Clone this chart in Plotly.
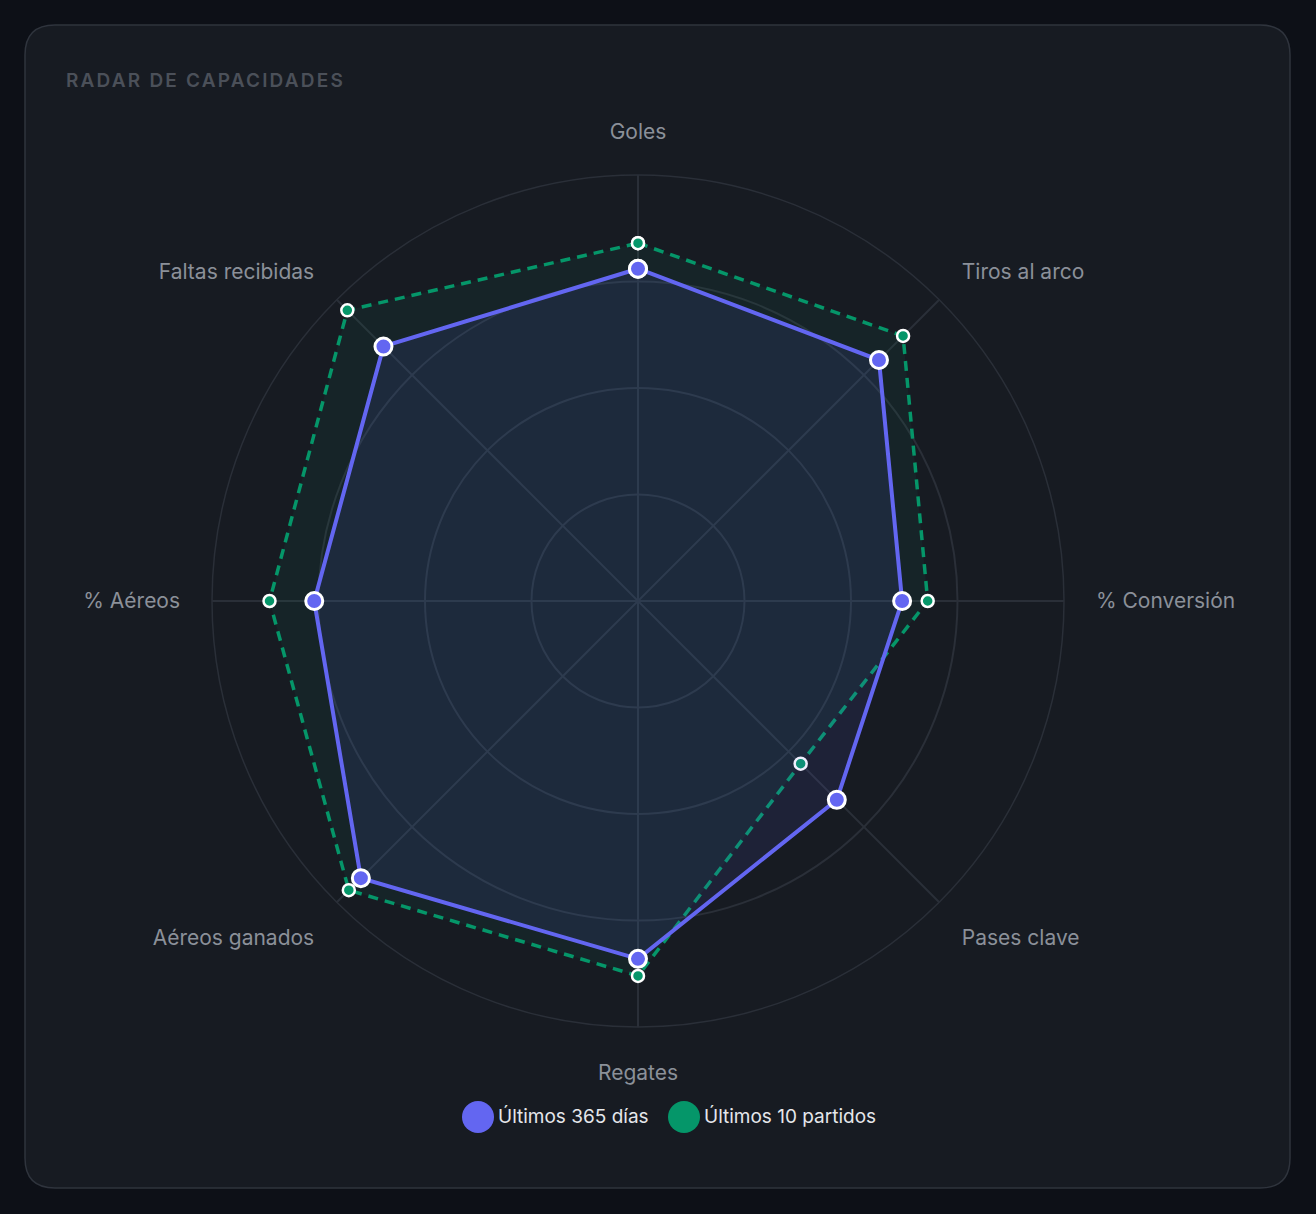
import plotly.graph_objects as go

W, H = 1316, 1214

# axis categories, clockwise from the top
categories = ["Goles", "Tiros al arco", "% Conversión", "Pases clave",
              "Regates", "Aéreos ganados", "% Aéreos", "Faltas recibidas"]

# values 0-100
ultimos_365 = [78, 80, 62, 66, 84, 92, 76, 84.5]
ultimos_10 = [84, 88, 68, 54, 88, 96, 86.5, 96.5]

series_names = ["Últimos 365 días", "Últimos 10 partidos"]
blue = "#6366f1"
green = "#059669"

grid_color = "#2a2f38"
label_color = "#8b9099"


def px(x, y):
    # pixel -> paper coordinates
    return x / W, 1 - y / H


def closed(vals):
    return vals + vals[:1]


fig = go.Figure()

fig.add_trace(go.Scatterpolar(
    r=closed(ultimos_10), theta=closed(categories),
    name=series_names[1], mode="lines+markers",
    fill="toself", fillcolor="rgba(16,185,129,0.06)",
    line=dict(color=green, width=3.5, dash="10px,7px"),
    marker=dict(size=12, color=green, line=dict(color="white", width=2.5)),
    showlegend=False, hoverinfo="skip",
))

fig.add_trace(go.Scatterpolar(
    r=closed(ultimos_365), theta=closed(categories),
    name=series_names[0], mode="lines+markers",
    fill="toself", fillcolor="rgba(99,102,241,0.10)",
    line=dict(color=blue, width=4),
    marker=dict(size=17, color=blue, line=dict(color="white", width=3)),
    showlegend=False, hoverinfo="skip",
))

# card background (rounded rect)
x0, y0, x1, y1, rad = 25, 25, 1290, 1188, 30
def P(x, y):
    a, b = px(x, y)
    return f"{a:.5f},{b:.5f}"
card = (f"M {P(x0 + rad, y0)} L {P(x1 - rad, y0)} Q {P(x1, y0)} {P(x1, y0 + rad)} "
        f"L {P(x1, y1 - rad)} Q {P(x1, y1)} {P(x1 - rad, y1)} "
        f"L {P(x0 + rad, y1)} Q {P(x0, y1)} {P(x0, y1 - rad)} "
        f"L {P(x0, y0 + rad)} Q {P(x0, y0)} {P(x0 + rad, y0)} Z")

shapes = [dict(type="path", xref="paper", yref="paper", path=card,
               fillcolor="#171b22", line=dict(color="#2f343d", width=1.5),
               layer="below")]

# legend: big dots + text
leg_items = [(478, series_names[0], blue, 498), (684, series_names[1], green, 704)]
# title box is measured before letter spacing is applied, text stays centred
# in it, so the anchor sits further right than the visible left edge
annotations = [dict(text="RADAR DE CAPACIDADES", xref="paper", yref="paper",
                    x=px(86, 0)[0], y=px(0, 81)[1], xanchor="left", yanchor="middle",
                    showarrow=False,
                    font=dict(family="Inter", size=19, color="#4b5059", weight=600))]
for cx, name, col, tx in leg_items:
    ax0, ay0 = px(cx - 16, 1101)
    ax1, ay1 = px(cx + 16, 1133)
    shapes.append(dict(type="circle", xref="paper", yref="paper",
                       x0=ax0, x1=ax1, y0=ay1, y1=ay0,
                       fillcolor=col, line=dict(width=0)))
    annotations.append(dict(text=name, xref="paper", yref="paper",
                            x=px(tx - 2, 0)[0], y=px(0, 1116)[1],
                            xanchor="left", yanchor="middle", showarrow=False,
                            font=dict(family="Inter", size=19, color="#e5e7eb")))

dx0, dy1 = px(638 - 426, 601 - 426)
dx1, dy0 = px(638 + 426, 601 + 426)

fig.update_layout(
    width=W, height=H,
    margin=dict(l=0, r=0, t=0, b=0),
    paper_bgcolor="#0d1017",
    plot_bgcolor="rgba(0,0,0,0)",
    font=dict(family="Inter", color=label_color),
    shapes=shapes,
    annotations=annotations,
    polar=dict(
        domain=dict(x=[dx0, dx1], y=[dy0, dy1]),
        bgcolor="rgba(0,0,0,0)",
        radialaxis=dict(range=[0, 100], tickvals=[25, 50, 75, 100],
                        showticklabels=False, ticks="", showline=False,
                        gridcolor=grid_color, gridwidth=1.5),
        angularaxis=dict(rotation=90, direction="clockwise",
                         linecolor=grid_color, linewidth=1.5,
                         gridcolor=grid_color, gridwidth=1.5,
                         ticks="outside", ticklen=27, tickcolor="rgba(0,0,0,0)",
                         tickfont=dict(family="Inter", size=21, color=label_color)),
    ),
)

# page margin off, and letter spacing on the small caps title
js = """
document.body.style.margin='0';
document.body.style.background='#0d1017';
document.querySelectorAll('.annotation-text').forEach(function(t){
  if (t.textContent.indexOf('RADAR') === 0) { t.style.letterSpacing = '2.2px'; }
});
"""
fig.write_html("out.html", config={"displayModeBar": False}, post_script=js)
